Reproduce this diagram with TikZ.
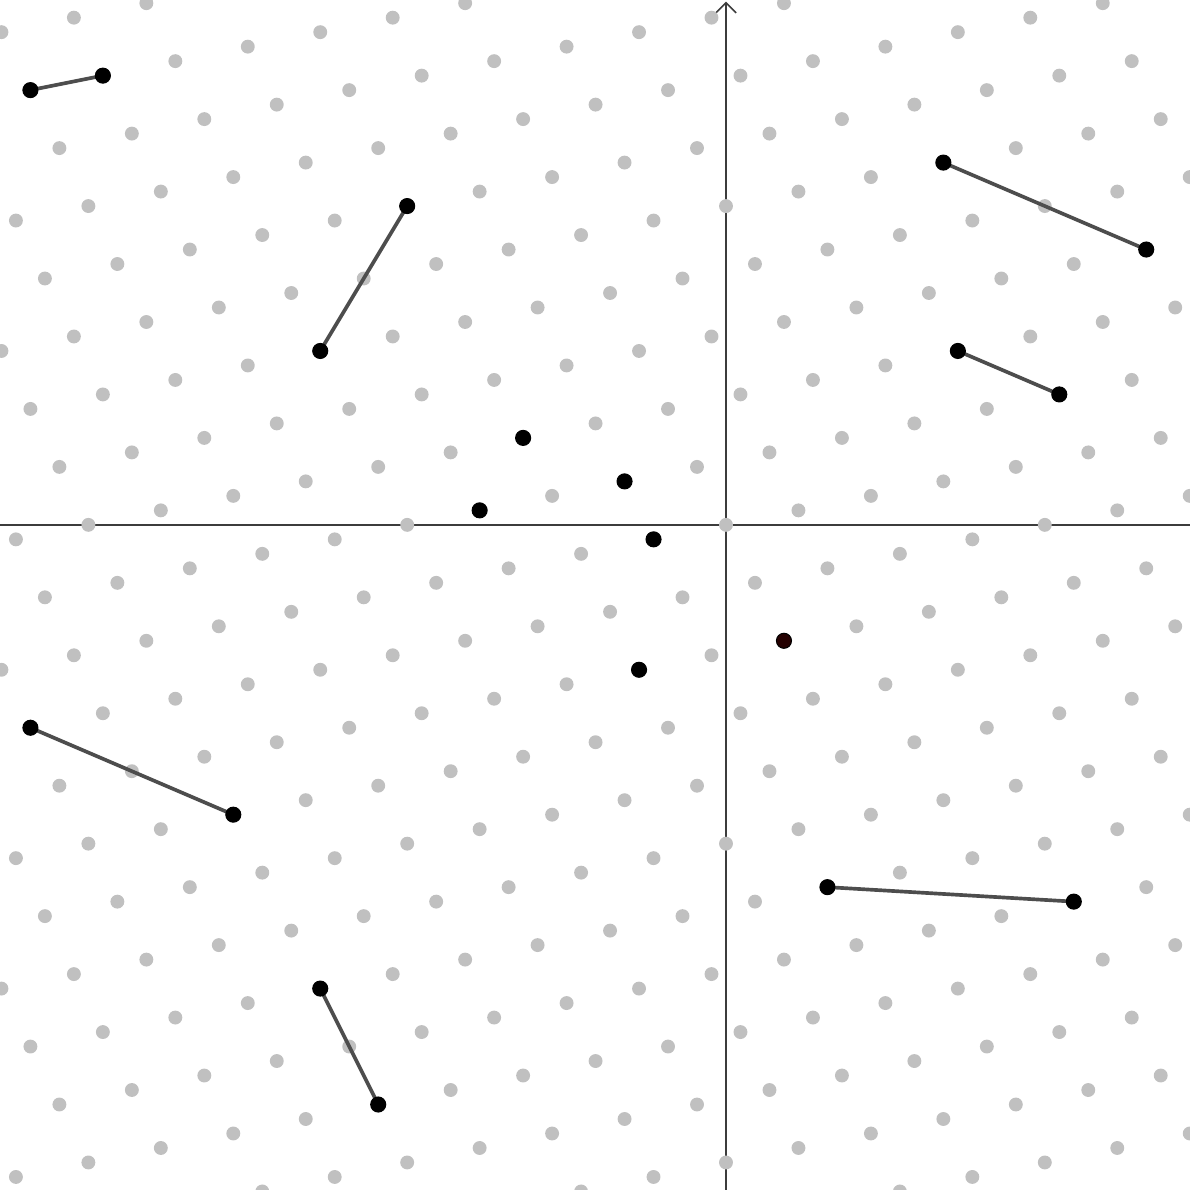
\documentclass[tikz,border=0pt]{standalone}
\usetikzlibrary{arrows.meta}
\definecolor{latgray}{RGB}{192,192,192}
\definecolor{seggray}{RGB}{77,77,77}
\definecolor{axgray}{RGB}{60,60,60}
\definecolor{darkred}{RGB}{36,0,0}
\begin{document}
\begin{tikzpicture}[x=1mm,y=1mm,
  axisline/.style={draw=axgray,line width=0.3pt},
  latdot/.style={fill=latgray},
  seg/.style={draw=seggray,line width=0.72pt},
  bpt/.style={circle,fill=black,draw=black,line width=0.2pt,inner sep=0pt,minimum size=1.04mm},
  rpt/.style={bpt,fill=darkred}]
\useasboundingbox (-50.1,-45.9) rectangle (32.02,36.22);
\clip (-50.1,-45.9) rectangle (32.02,36.22);
% axes
\draw[axisline] (-50.1,0) -- (32.02,0);
\draw[axisline,-{Straight Barb[length=0.7mm,width=1.4mm]}] (0,-45.9) -- (0,36.1);
% lattice x = 5y (mod 22)
\foreach \y in {-47,...,37}{
  \pgfmathtruncatemacro\xo{Mod(5*\y,22)}
  \foreach \k in {-3,...,1}{
    \pgfmathtruncatemacro\xx{\xo+22*\k}
    \fill[latdot] (\xx,\y) circle (0.48);
  }
}
% points
\coordinate (a1) at (-48,30); \coordinate (a2) at (-43,31);
\coordinate (b1) at (-28,12); \coordinate (b2) at (-22,22);
\coordinate (c1) at (15,25);  \coordinate (c2) at (29,19);
\coordinate (d1) at (16,12);  \coordinate (d2) at (23,9);
\coordinate (e1) at (-48,-14); \coordinate (e2) at (-34,-20);
\coordinate (f1) at (7,-25);  \coordinate (f2) at (24,-26);
\coordinate (g1) at (-28,-32); \coordinate (g2) at (-24,-40);
\coordinate (h1) at (-14,6);
\coordinate (h2) at (-7,3);
\coordinate (h3) at (-17,1);
\coordinate (h4) at (-5,-1);
\coordinate (h5) at (-6,-10);
\coordinate (r1) at (4,-8);
% segments
\foreach \p in {a,b,c,d,e,f,g}{
  \draw[seg] (\p1) -- (\p2);
}
% dots
\foreach \n in {a1,a2,b1,b2,c1,c2,d1,d2,e1,e2,f1,f2,g1,g2,h1,h2,h3,h4,h5}{
  \node[bpt] (N\n) at (\n) {};
}
\node[rpt] (Nr1) at (r1) {};
\end{tikzpicture}
\end{document}
